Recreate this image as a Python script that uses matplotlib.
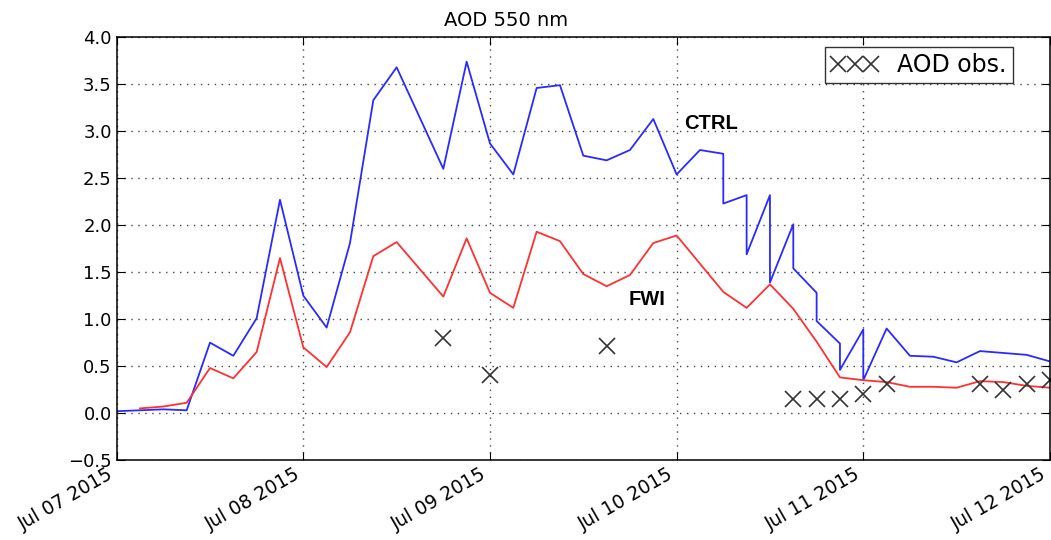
import pandas as pd
import matplotlib
matplotlib.use("Agg")
import matplotlib.pyplot as plt
import matplotlib.dates as mdates

START = pd.Timestamp("2015-07-07")

# hours after Jul 07 2015 00:00
ctrl_hours = [0, 3, 6, 9, 12, 15, 18, 21, 24, 27, 30, 33, 36, 42, 45, 48, 51, 54,
              57, 60, 63, 66, 69, 72, 75, 78, 78, 81, 81, 84, 84, 87, 87, 90, 90,
              93, 93, 96, 96, 99, 102, 105, 108, 111, 114, 117, 120]
ctrl_vals = [0.02, 0.03, 0.04, 0.03, 0.75, 0.61, 1.01, 2.27, 1.25, 0.91, 1.81,
             3.33, 3.68, 2.60, 3.74, 2.87, 2.54, 3.46, 3.49, 2.74, 2.69, 2.80,
             3.13, 2.54, 2.80, 2.76, 2.23, 2.32, 1.69, 2.32, 1.39, 2.01, 1.54,
             1.28, 0.98, 0.74, 0.46, 0.89, 0.35, 0.90, 0.61, 0.60, 0.54, 0.66,
             0.64, 0.62, 0.55]

fwi_hours = [3, 6, 9, 12, 15, 18, 21, 24, 27, 30, 33, 36, 42, 45, 48, 51, 54, 57,
             60, 63, 66, 69, 72, 75, 78, 81, 84, 87, 90, 93, 96, 99, 102, 105,
             108, 111, 114, 117, 120]
fwi_vals = [0.05, 0.07, 0.11, 0.48, 0.37, 0.65, 1.65, 0.70, 0.49, 0.86, 1.67,
            1.82, 1.24, 1.86, 1.28, 1.12, 1.93, 1.83, 1.48, 1.35, 1.47, 1.81,
            1.89, 1.59, 1.29, 1.12, 1.37, 1.11, 0.76, 0.38, 0.35, 0.33, 0.28,
            0.28, 0.27, 0.34, 0.33, 0.29, 0.27]

obs_hours = [42, 48, 63, 87, 90, 93, 96, 99, 111, 114, 117, 120]
obs_vals = [0.80, 0.41, 0.71, 0.15, 0.15, 0.15, 0.20, 0.31, 0.31, 0.25, 0.31, 0.35]


def to_time(hours):
    return [START + pd.Timedelta(hours=h) for h in hours]


plt.rcParams["font.family"] = ["DejaVu Sans"]

fig = plt.figure(figsize=(10.51, 5.4), dpi=100, facecolor="white")
ax = fig.add_axes([0.111, 0.148, 0.888, 0.783])

ax.plot(to_time(ctrl_hours), ctrl_vals, color="#2a2aff", linewidth=1.3)
ax.plot(to_time(fwi_hours), fwi_vals, color="#ff3030", linewidth=1.3)
ax.plot(to_time(obs_hours), obs_vals, linestyle="none", marker="x",
        markersize=12, markeredgewidth=1.2, color="#333333", label="AOD obs.")

ax.set_xlim(START, START + pd.Timedelta(days=5))
ax.set_ylim(-0.5, 4.0)
ax.set_yticks([-0.5, 0.0, 0.5, 1.0, 1.5, 2.0, 2.5, 3.0, 3.5, 4.0])
ax.xaxis.set_major_locator(mdates.DayLocator())
ax.xaxis.set_major_formatter(mdates.DateFormatter("%b %d %Y"))
ax.tick_params(direction="in", length=6, labelsize=13, top=True, right=True)
for lbl in ax.get_xticklabels():
    lbl.set_rotation(30)
    lbl.set_ha("right")
    lbl.set_fontsize(13.5)
for sp in ax.spines.values():
    sp.set_linewidth(1.1)

ax.grid(True, color="#444444", linestyle=(0, (1, 4)), linewidth=1.0)

ax.text(START + pd.Timedelta(hours=73), 3.02, "CTRL", fontsize=14.5,
        fontweight="bold", family="Liberation Sans")
ax.text(START + pd.Timedelta(hours=65.8), 1.15, "FWI", fontsize=14.5,
        fontweight="bold", family="Liberation Sans")

ax.set_title("AOD 550 nm", fontsize=14, x=0.4175, pad=8)

leg = ax.legend(loc="upper right", bbox_to_anchor=(0.960, 0.976),
                borderaxespad=0, numpoints=3, fontsize=17, fancybox=False,
                handlelength=2.0, handletextpad=0.8, borderpad=0.25)
leg.get_frame().set_edgecolor("black")
leg.get_frame().set_linewidth(1.0)

plt.savefig("out.png", dpi=100, facecolor="white")
